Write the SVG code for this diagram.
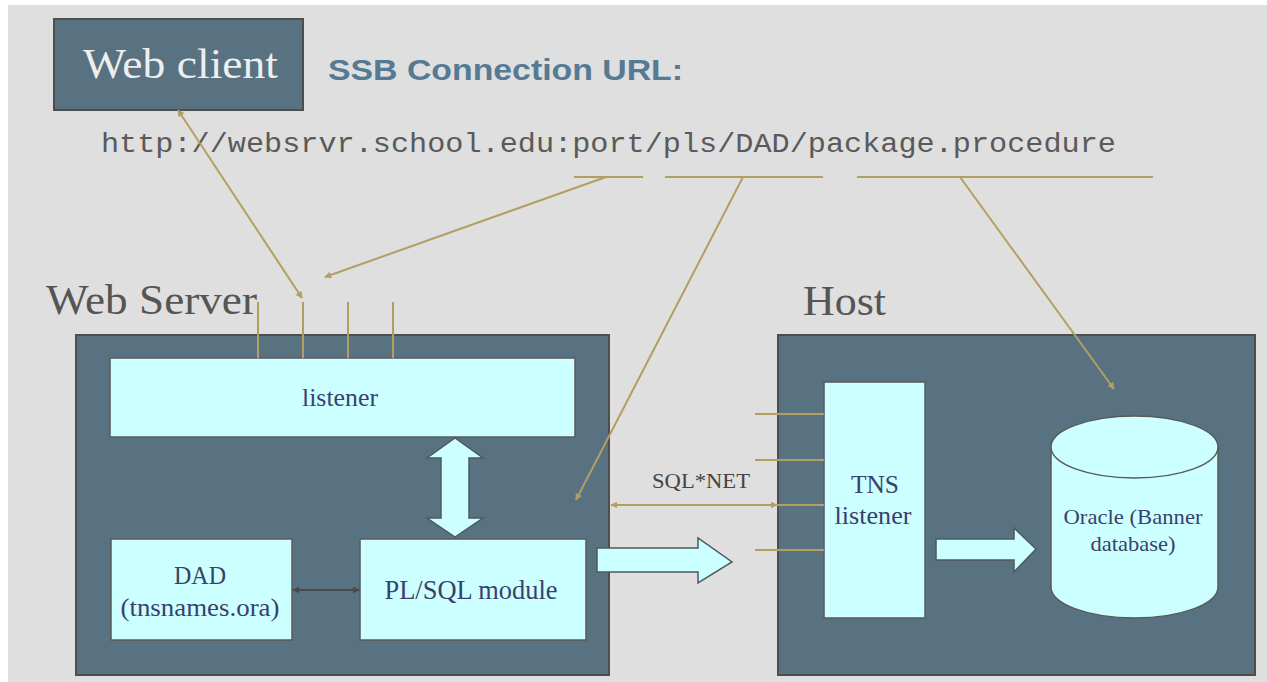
<svg xmlns="http://www.w3.org/2000/svg" width="1267" height="682" viewBox="0 0 1267 682">
<style>
.dark{fill:#587282;stroke:#4e4e4e;stroke-width:2}
.light{fill:#ccffff;stroke:#5a5a5a;stroke-width:1.5}
.gold{stroke:#b39e62;stroke-width:2;fill:none}
.lbl{font-family:"Liberation Serif","Times New Roman",serif;fill:#3b3f6b;text-anchor:middle}
.big{font-family:"Liberation Serif","Times New Roman",serif;fill:#555555;font-size:42px}
.block{fill:#ccffff;stroke:#4e5a60;stroke-width:1.5}
</style>
<defs>
<marker id="ag" viewBox="0 0 10 10" refX="9" refY="5" markerWidth="7" markerHeight="7" markerUnits="userSpaceOnUse" orient="auto-start-reverse"><path d="M0,0 L10,5 L0,10 z" fill="#b39e62"/></marker>
<marker id="ad" viewBox="0 0 10 10" refX="9" refY="5" markerWidth="7" markerHeight="7" markerUnits="userSpaceOnUse" orient="auto-start-reverse"><path d="M0,0 L10,5 L0,10 z" fill="#4a4a4a"/></marker>
</defs>
<rect x="0" y="0" width="1267" height="682" fill="#ffffff"/>
<rect x="8" y="5" width="1259" height="677" fill="#dfdfdf"/>

<g id="web-client">
<rect class="dark" x="54" y="19" width="249" height="91"/>
<text x="83" y="78" font-family="Liberation Serif, Times New Roman, serif" font-size="42" fill="#eeeeee" textLength="195" lengthAdjust="spacingAndGlyphs">Web client</text>
</g>
<g id="title">
<text x="328" y="80" font-family="Liberation Sans, Arial, sans-serif" font-weight="bold" font-size="29" fill="#557a93" textLength="355" lengthAdjust="spacingAndGlyphs">SSB Connection URL:</text>
<text x="101" y="152" font-family="Liberation Mono, Courier New, monospace" font-size="27" fill="#5a5a5a" textLength="1015" lengthAdjust="spacingAndGlyphs">http://websrvr.school.edu:port/pls/DAD/package.procedure</text>
</g>

<g id="web-server">
<text class="big" x="46" y="314" textLength="211" lengthAdjust="spacingAndGlyphs">Web Server</text>
<rect class="dark" x="76" y="335" width="533" height="340"/>
</g>
<g id="listener">
<rect class="light" x="110" y="358" width="465" height="79"/>
<text class="lbl" x="340" y="406" font-size="26" textLength="76" lengthAdjust="spacingAndGlyphs">listener</text>
</g>
<g id="dad">
<rect class="light" x="111" y="539" width="181" height="101"/>
<text class="lbl" x="200" y="584" font-size="26" textLength="52" lengthAdjust="spacingAndGlyphs">DAD</text>
<text class="lbl" x="200" y="616" font-size="26" textLength="159" lengthAdjust="spacingAndGlyphs">(tnsnames.ora)</text>
</g>
<g id="plsql">
<rect class="light" x="360" y="539" width="226" height="101"/>
<text class="lbl" x="471" y="599" font-size="27" textLength="173" lengthAdjust="spacingAndGlyphs">PL/SQL module</text>
</g>

<g id="host">
<text class="big" x="803" y="315" textLength="83" lengthAdjust="spacingAndGlyphs">Host</text>
<rect class="dark" x="778" y="335" width="477" height="340"/>
</g>
<g id="tns">
<rect class="light" x="824" y="382" width="101" height="236"/>
<text class="lbl" x="875" y="493" font-size="26" textLength="48" lengthAdjust="spacingAndGlyphs">TNS</text>
<text class="lbl" x="873" y="524" font-size="26" textLength="77" lengthAdjust="spacingAndGlyphs">listener</text>
</g>
<g id="oracle">
<path class="light" d="M1051,447 L1051,587 A83.5,31 0 0 0 1218,587 L1218,447"/>
<ellipse class="light" cx="1134.5" cy="447" rx="83.5" ry="31"/>
<text class="lbl" x="1133" y="524" font-size="22" textLength="139" lengthAdjust="spacingAndGlyphs">Oracle (Banner</text>
<text class="lbl" x="1133" y="551" font-size="22" textLength="85" lengthAdjust="spacingAndGlyphs">database)</text>
</g>

<g id="connectors">
<line class="gold" x1="574" y1="177" x2="643" y2="177"/>
<line class="gold" x1="665" y1="177" x2="823" y2="177"/>
<line class="gold" x1="857" y1="177" x2="1153" y2="177"/>
<line class="gold" x1="606" y1="177" x2="325" y2="277" marker-end="url(#ag)"/>
<line class="gold" x1="743" y1="177" x2="576" y2="500" marker-end="url(#ag)"/>
<line class="gold" x1="960" y1="177" x2="1114" y2="389" marker-end="url(#ag)"/>
<line class="gold" x1="178" y1="110" x2="302" y2="298" marker-start="url(#ag)" marker-end="url(#ag)"/>
<line class="gold" x1="258" y1="302" x2="258" y2="358"/>
<line class="gold" x1="303" y1="302" x2="303" y2="358"/>
<line class="gold" x1="348" y1="302" x2="348" y2="358"/>
<line class="gold" x1="393" y1="302" x2="393" y2="358"/>
<line class="gold" x1="755" y1="414" x2="824" y2="414"/>
<line class="gold" x1="755" y1="460" x2="824" y2="460"/>
<line class="gold" x1="755" y1="505" x2="824" y2="505"/>
<line class="gold" x1="755" y1="550" x2="824" y2="550"/>
<line class="gold" x1="611" y1="505" x2="777" y2="505" marker-start="url(#ag)" marker-end="url(#ag)"/>
<text x="701" y="488" font-family="Liberation Serif, Times New Roman, serif" font-size="22" fill="#444444" text-anchor="middle" textLength="98" lengthAdjust="spacingAndGlyphs">SQL*NET</text>
<line x1="293" y1="590" x2="359" y2="590" stroke="#4a4a4a" stroke-width="2" marker-start="url(#ad)" marker-end="url(#ad)"/>
<path class="block" d="M455,438 L483,458 L469,458 L469,518 L483,518 L455,537 L427,518 L441,518 L441,458 L427,458 Z"/>
<path class="block" d="M597,548 L698,548 L698,538 L732,562 L698,583 L698,572 L597,572 Z"/>
<path class="block" d="M936,539 L1014,539 L1014,528 L1036,549 L1014,572 L1014,560 L936,560 Z"/>
</g>
</svg>
